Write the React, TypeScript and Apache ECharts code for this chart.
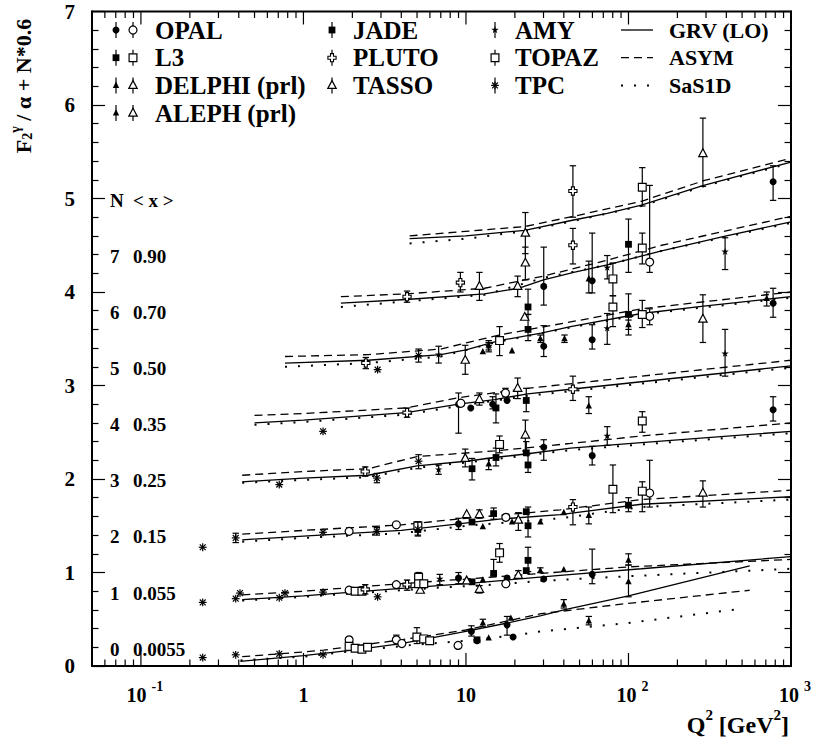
import React, { useEffect, useRef } from "react";
import * as echarts from "echarts";

const FONT = '"Liberation Serif", "Times New Roman", Times, serif';

const Q2_MIN = 0.05;
const Q2_MAX = 1000;
const N_OFFSET = 0.6;

// row labels: N and <x>
const nValues = [0, 1, 2, 3, 4, 5, 6, 7];
const meanX = ["0.0055", "0.055", "0.15", "0.25", "0.35", "0.50", "0.70", "0.90"];

// x axis ticks
const xMajorTicks = [0.1, 1, 10, 100, 1000];
const xTickBase = ["10", "1", "10", "10", "10"];
const xTickExp = ["-1", "", "", "2", "3"];

// ---------- model curves: [Q2, F2/alpha + N*0.6] ----------
const grvN0 = [[0.41, 0.05], [1, 0.11], [2, 0.17], [4, 0.24], [10, 0.37], [18, 0.46], [29, 0.54], [40, 0.6], [100, 0.75], [557, 1.07]];
const grvN1 = [[0.42, 0.71], [1, 0.75], [4, 0.83], [10, 0.88], [38, 0.97], [120, 1.04], [1000, 1.17]];
const grvN2 = [[0.42, 1.35], [1, 1.39], [4, 1.45], [9, 1.52], [16, 1.57], [38, 1.62], [120, 1.73], [1000, 1.81]];
const grvN3 = [[0.42, 1.97], [1, 2.01], [2.5, 2.04], [5, 2.14], [10, 2.19], [15, 2.23], [24, 2.27], [44, 2.33], [120, 2.39], [1000, 2.51]];
const grvN4 = [[0.5, 2.6], [1, 2.63], [4.3, 2.71], [9, 2.8], [15, 2.85], [24, 2.91], [44, 2.96], [120, 3.04], [1000, 3.21]];
const grvN5 = [[0.77, 3.24], [2.5, 3.27], [7, 3.33], [10, 3.38], [16, 3.48], [29, 3.56], [44, 3.63], [120, 3.77], [290, 3.85], [1000, 3.95]];
const grvN6 = [[1.7, 3.88], [4.3, 3.92], [13, 3.98], [21, 4.04], [30, 4.13], [46, 4.21], [74, 4.29], [160, 4.44], [400, 4.6], [1000, 4.75]];
const grvN7 = [[4.5, 4.57], [10, 4.6], [23, 4.66], [46, 4.77], [74, 4.84], [120, 4.93], [290, 5.14], [1000, 5.39]];

const asymN0 = [[0.42, 0.1], [1, 0.15], [1.33, 0.17], [4, 0.28], [10, 0.385], [29, 0.56], [100, 0.67], [557, 0.81]];
const asymN1 = [[0.42, 0.76], [1, 0.8], [4, 0.88], [10, 0.93], [29, 0.99], [100, 1.06], [1000, 1.14]];
const asymN2 = [[0.42, 1.41], [1, 1.45], [4, 1.51], [10, 1.58], [38, 1.67], [120, 1.78], [1000, 1.88]];
const asymN3 = [[0.42, 2.04], [1, 2.08], [2.5, 2.11], [5, 2.24], [15, 2.3], [44, 2.38], [120, 2.46], [1000, 2.6]];
const asymN4 = [[0.5, 2.68], [1, 2.7], [4.3, 2.76], [9, 2.87], [24, 2.97], [120, 3.1], [1000, 3.27]];
const asymN5 = [[0.77, 3.31], [2.5, 3.33], [7, 3.39], [16, 3.54], [44, 3.68], [120, 3.82], [1000, 4.0]];
const asymN6 = [[1.7, 3.95], [4.3, 3.98], [13, 4.04], [30, 4.17], [74, 4.34], [160, 4.5], [1000, 4.81]];
const asymN7 = [[4.5, 4.6], [23, 4.7], [46, 4.81], [120, 4.97], [290, 5.19], [1000, 5.43]];

const sasN0 = [[0.41, 0.06], [1, 0.1], [2, 0.16], [5, 0.23], [10, 0.27], [20, 0.33], [29, 0.37], [100, 0.46], [484, 0.61]];
const sasN1 = [[0.42, 0.7], [1, 0.74], [4, 0.81], [7, 0.84], [15, 0.87], [29, 0.91], [100, 0.96], [1000, 1.04]];
const sasN2 = [[0.42, 1.33], [1, 1.37], [4, 1.42], [10, 1.5], [38, 1.58], [120, 1.7], [1000, 1.78]];
const sasN3 = [[0.42, 1.96], [1, 1.99], [2.5, 2.02], [5, 2.12], [15, 2.21], [44, 2.31], [120, 2.37], [1000, 2.49]];
const sasN4 = [[0.5, 2.58], [1, 2.61], [4.3, 2.69], [9, 2.78], [24, 2.89], [120, 3.02], [1000, 3.19]];
const sasN5 = [[0.77, 3.2], [2.5, 3.24], [7, 3.31], [16, 3.47], [44, 3.62], [120, 3.76], [1000, 3.94]];
const sasN6 = [[1.7, 3.84], [4.3, 3.9], [13, 3.97], [30, 4.15], [74, 4.29], [160, 4.44], [1000, 4.74]];
const sasN7 = [[4.5, 4.52], [10, 4.57], [23, 4.65], [46, 4.76], [120, 4.92], [290, 5.13], [1000, 5.38]];

// ---------- measurements: [Q2, value, errLow, errHigh] ----------
const opal = [
  [30.1, 4.06, 3.86, 4.48], [59.8, 4.12, 3.99, 4.63], [776, 5.18, 4.98, 5.35],
  [30.1, 3.42, 3.31, 3.64], [59.8, 3.49, 3.39, 3.65], [776, 3.88, 3.73, 4.04],
  [9.0, 2.8, 2.49, 2.92], [10.7, 2.76], [14.6, 2.8, 2.75, 2.88], [17.9, 2.84], [776, 2.74, 2.62, 2.88],
  [30.1, 2.34, 2.2, 2.42], [59.8, 2.25, 2.15, 2.35],
  [9.0, 1.52, 1.46, 1.58],
  [9.0, 0.94, 0.88, 1.0], [17.9, 0.94], [30.1, 0.93], [59.8, 0.98, 0.88, 1.25],
  [10.8, 0.37, 0.32, 0.43], [11.7, 0.27], [17.9, 0.44, 0.33, 0.53], [19.5, 0.31],
];
const opalOpen = [
  [135, 4.32, 4.21, 5.14], [135, 3.74, 3.65, 3.82], [9.3, 2.81], [17.5, 2.92, 2.88, 2.97],
  [135, 1.85, 1.7, 2.2], [1.91, 1.44], [3.73, 1.51], [17.6, 1.59],
  [1.91, 0.81], [3.73, 0.87], [17.6, 0.88],
  [1.91, 0.28], [3.73, 0.28, 0.25, 0.33], [4.03, 0.24], [8.94, 0.22],
];
const l3 = [
  [15.3, 2.76, 2.6, 2.91], [10.9, 2.11, 1.99, 2.22], [15.3, 2.23, 2.14, 2.33],
  [5.06, 1.46], [10.9, 1.54], [14.8, 1.63, 1.57, 1.69],
  [10.9, 0.9], [14.8, 0.99, 0.97, 1.14], [11.7, 0.28],
];
const l3Open = [
  [121.6, 5.12, 4.92, 5.33], [121.6, 4.47, 4.3, 4.63], [121.6, 3.76, 3.62, 3.91], [121.6, 2.62, 2.5, 2.72],
  [121.6, 1.87, 1.65, 1.97], [2.08, 0.8], [2.29, 0.8],
  [1.91, 0.21], [2.08, 0.19], [2.29, 0.18], [2.48, 0.2],
];
const delphi = [
  [57, 4.14, 3.99, 4.33], [12.7, 3.36], [13.8, 3.43, 3.36, 3.48], [19.2, 3.37], [28.7, 3.5, 3.46, 3.54],
  [57, 2.78, 2.7, 2.88], [13.8, 2.16, 2.1, 2.22], [12.7, 1.49], [19.2, 1.54],
  [12.7, 0.92], [28.7, 1.02, 1.0, 1.05], [12.7, 0.46, 0.42, 0.5], [13.8, 0.3], [18.9, 0.51],
];
const aleph = [
  [40.4, 3.5, 3.46, 3.54], [100, 3.65, 3.6, 3.7], [709, 3.93, 3.85, 4.0], [40, 1.64],
  [57, 1.61, 1.52, 1.7], [28.7, 1.54], [40, 1.03], [100, 1.13, 1.08, 1.2], [100, 0.9, 0.74, 1.08],
  [40, 0.66, 0.62, 0.71], [57, 0.48, 0.44, 0.53],
];
const jade = [
  [24.1, 3.84, 3.76, 4.03], [24.1, 3.6, 3.48, 3.76], [100, 4.51, 4.21, 4.78], [100, 3.76, 3.54, 3.98],
  [23.5, 2.84, 2.72, 2.97], [23.5, 2.28, 2.28, 2.4], [24.1, 2.15, 2.07, 2.27], [100, 1.72, 1.65, 1.8],
  [23.5, 1.65], [24.1, 1.5, 1.38, 1.7], [23.5, 1.02], [24.1, 1.13, 1.01, 1.27],
];
const pluto = [
  [45.5, 5.08, 4.8, 5.35], [45.5, 4.5, 4.3, 4.68], [9.24, 4.1, 4.0, 4.21], [4.34, 3.95, 3.89, 4.01],
  [2.42, 3.24, 3.18, 3.3], [45.5, 2.96, 2.84, 3.1], [4.34, 2.71, 2.66, 2.76], [2.4, 2.08, 2.03, 2.13],
  [45.5, 1.7, 1.51, 1.78], [2.4, 0.82, 0.77, 0.87], [4.34, 0.87, 0.81, 0.92],
];
const tasso = [
  [23.2, 4.63, 4.41, 4.85], [23.2, 4.31, 4.13, 4.48], [12.1, 4.06, 3.91, 4.21], [20.8, 4.06, 3.95, 4.17],
  [23, 3.73], [287, 5.48, 5.13, 5.86], [9.9, 3.27, 3.12, 3.43], [287, 3.71, 3.46, 3.97],
  [12.1, 2.85, 2.79, 2.92], [20.8, 2.97, 2.86, 3.08], [9.9, 2.22, 2.13, 2.32], [23.2, 2.47, 2.3, 2.63],
  [287, 1.85, 1.7, 1.98], [10.1, 1.62], [12.1, 1.62, 1.58, 1.67], [21, 1.56, 1.45, 1.64],
  [5.23, 0.81], [10.1, 0.91], [12.1, 0.82, 0.78, 0.86], [21, 0.97, 0.97, 1.02],
];
const amy = [
  [74, 4.26, 4.14, 4.39], [393, 4.43, 4.24, 4.58], [6.79, 3.33, 3.24, 3.42], [13.8, 3.42, 3.38, 3.46],
  [74, 3.61, 3.44, 3.77], [393, 3.34, 3.1, 3.6], [6.79, 2.1, 2.05, 2.15], [74, 2.46, 2.36, 2.56],
  [6.9, 0.93, 0.87, 0.98],
];
const topaz = [
  [80.2, 4.14, 3.96, 4.31], [80.2, 3.84, 3.63, 3.96], [16.1, 3.48, 3.32, 3.63], [16.1, 2.37, 2.28, 2.46],
  [80.2, 1.89, 1.64, 2.15], [5.06, 1.5, 1.4, 1.54], [16.1, 1.21, 1.11, 1.31], [5.11, 0.95, 0.9, 1.0],
  [5.11, 0.88], [5.5, 0.88], [4.99, 0.31, 0.24, 0.41], [5.49, 0.29], [5.98, 0.27],
];
const tpc = [
  [0.24, 1.27], [0.24, 0.68], [0.24, 0.09], [0.383, 1.37, 1.32, 1.42], [0.383, 0.72], [0.383, 0.12],
  [0.407, 0.78], [0.71, 1.94], [0.71, 0.73], [0.71, 0.13], [0.77, 0.78],
  [1.32, 2.51], [1.32, 1.43], [1.32, 0.79], [1.32, 0.12],
  [2.86, 3.17], [2.83, 2.01, 1.96, 2.06], [2.83, 1.44, 1.4, 1.48], [2.86, 0.74],
  [5.11, 3.32, 3.25, 3.39], [5.11, 2.19, 2.11, 2.26], [5.06, 1.46, 1.39, 1.54],
];

const grvCurves = [grvN0, grvN1, grvN2, grvN3, grvN4, grvN5, grvN6, grvN7];
const asymCurves = [asymN0, asymN1, asymN2, asymN3, asymN4, asymN5, asymN6, asymN7];
const sasCurves = [sasN0, sasN1, sasN2, sasN3, sasN4, sasN5, sasN6, sasN7];

const BLACK = "#000";
const WHITE = "#fff";
const DASH = [8, 5];
const DOT = [2, 11];

function markerShapes(kind: string, x: number, y: number): any[] {
  switch (kind) {
    case "fc":
      return [{ type: "circle", shape: { cx: x, cy: y, r: 3.5 }, style: { fill: BLACK } }];
    case "oc":
      return [{ type: "circle", shape: { cx: x, cy: y, r: 4 }, style: { fill: WHITE, stroke: BLACK, lineWidth: 1.2 } }];
    case "fs":
      return [{ type: "rect", shape: { x: x - 3.4, y: y - 3.4, width: 6.8, height: 6.8 }, style: { fill: BLACK } }];
    case "os":
      return [{ type: "rect", shape: { x: x - 3.9, y: y - 3.9, width: 7.8, height: 7.8 }, style: { fill: WHITE, stroke: BLACK, lineWidth: 1.2 } }];
    case "ft":
      return [{ type: "polygon", shape: { points: [[x, y - 3.8], [x - 3.2, y + 2.5], [x + 3.2, y + 2.5]] }, style: { fill: BLACK } }];
    case "ot":
      return [{ type: "polygon", shape: { points: [[x, y - 4.8], [x - 4.2, y + 3], [x + 4.2, y + 3]] }, style: { fill: WHITE, stroke: BLACK, lineWidth: 1.2 } }];
    case "cr": {
      const a = 1.5, b = 4.1;
      return [{
        type: "polygon",
        shape: { points: [[x - a, y - b], [x + a, y - b], [x + a, y - a], [x + b, y - a], [x + b, y + a], [x + a, y + a], [x + a, y + b], [x - a, y + b], [x - a, y + a], [x - b, y + a], [x - b, y - a], [x - a, y - a]] },
        style: { fill: WHITE, stroke: BLACK, lineWidth: 1.1 },
      }];
    }
    case "st": {
      const pts: number[][] = [];
      for (let i = 0; i < 10; i++) {
        const r = i % 2 === 0 ? 3.9 : 1.5;
        const ang = -Math.PI / 2 + (i * Math.PI) / 5;
        pts.push([x + r * Math.cos(ang), y + r * Math.sin(ang)]);
      }
      return [{ type: "polygon", shape: { points: pts }, style: { fill: BLACK } }];
    }
    case "as": {
      const s = 3.9, d = 2.9;
      const st = { stroke: BLACK, lineWidth: 1.2 };
      return [
        { type: "line", shape: { x1: x, y1: y - s, x2: x, y2: y + s }, style: st },
        { type: "line", shape: { x1: x - s, y1: y, x2: x + s, y2: y }, style: st },
        { type: "line", shape: { x1: x - d, y1: y - d, x2: x + d, y2: y + d }, style: st },
        { type: "line", shape: { x1: x - d, y1: y + d, x2: x + d, y2: y - d }, style: st },
      ];
    }
  }
  return [];
}

function seg(x1: number, y1: number, x2: number, y2: number, w = 1.2): any {
  return { type: "line", shape: { x1, y1, x2, y2 }, style: { stroke: BLACK, lineWidth: w } };
}

function pointRenderer(kind: string) {
  return (params: any, api: any) => {
    const q = api.value(0);
    const y = api.value(1);
    const lo = api.value(2);
    const hi = api.value(3);
    const p = api.coord([q, y]);
    const children: any[] = [];
    if (Number.isFinite(lo) && Number.isFinite(hi) && hi > lo) {
      const a = api.coord([q, lo]);
      const b = api.coord([q, hi]);
      children.push(seg(p[0], a[1], p[0], b[1]));
      children.push(seg(p[0] - 3.2, a[1], p[0] + 3.2, a[1]));
      children.push(seg(p[0] - 3.2, b[1], p[0] + 3.2, b[1]));
    }
    children.push(...markerShapes(kind, p[0], p[1]));
    return { type: "group", children };
  };
}

const experiments = [
  { name: "OPAL", data: opal, kind: "fc" },
  { name: "OPAL (open)", data: opalOpen, kind: "oc" },
  { name: "L3", data: l3, kind: "fs" },
  { name: "L3 (open)", data: l3Open, kind: "os" },
  { name: "DELPHI (prl)", data: delphi, kind: "ft" },
  { name: "ALEPH (prl)", data: aleph, kind: "ft" },
  { name: "JADE", data: jade, kind: "fs" },
  { name: "PLUTO", data: pluto, kind: "cr" },
  { name: "TASSO", data: tasso, kind: "ot" },
  { name: "AMY", data: amy, kind: "st" },
  { name: "TOPAZ", data: topaz, kind: "os" },
  { name: "TPC", data: tpc, kind: "as" },
];

const models = [
  { name: "GRV (LO)", curves: grvCurves, lineType: "solid" as any, width: 1.3 },
  { name: "ASYM", curves: asymCurves, lineType: DASH as any, width: 1.3 },
  { name: "SaS1D", curves: sasCurves, lineType: DOT as any, width: 2 },
];

function buildLegend(): any[] {
  const els: any[] = [];
  const rowY = (i: number) => 30 + i * 27.7;
  const textEl = (x: number, y: number, t: string, size = 25) => ({
    type: "text",
    x,
    y,
    style: { text: t, fill: BLACK, fontSize: size, fontWeight: "bold", fontFamily: FONT, align: "left", verticalAlign: "middle" },
  });
  const markerWithBar = (kind: string, x: number, y: number) => [seg(x, y - 8, x, y + 8), ...markerShapes(kind, x, y)];
  const col1 = [
    { label: "OPAL", kinds: ["fc", "oc"] },
    { label: "L3", kinds: ["fs", "os"] },
    { label: "DELPHI (prl)", kinds: ["ft", "ot"] },
    { label: "ALEPH (prl)", kinds: ["ft", "ot"] },
  ];
  col1.forEach((it, i) => {
    const y = rowY(i);
    els.push(...markerWithBar(it.kinds[0], 116, y));
    els.push(...markerWithBar(it.kinds[1], 133, y));
    els.push(textEl(155, y, it.label));
  });
  const col2 = [{ label: "JADE", kind: "fs" }, { label: "PLUTO", kind: "cr" }, { label: "TASSO", kind: "ot" }];
  col2.forEach((it, i) => {
    const y = rowY(i);
    els.push(...markerWithBar(it.kind, 332, y));
    els.push(textEl(353, y, it.label));
  });
  const col3 = [{ label: "AMY", kind: "st" }, { label: "TOPAZ", kind: "os" }, { label: "TPC", kind: "as" }];
  col3.forEach((it, i) => {
    const y = rowY(i);
    els.push(...markerWithBar(it.kind, 495, y));
    els.push(textEl(515, y, it.label));
  });
  models.forEach((m, i) => {
    const y = rowY(i);
    const style: any = { stroke: BLACK, lineWidth: m.width };
    if (Array.isArray(m.lineType)) style.lineDash = m.lineType;
    els.push({ type: "line", shape: { x1: 621, y1: y, x2: 653, y2: y }, style });
    els.push(textEl(669, y, m.name, 22));
  });
  return els;
}

export default function App() {
  const ref = useRef<HTMLDivElement>(null);

  useEffect(() => {
    if (!ref.current) return;
    const chart = echarts.init(ref.current, undefined, { renderer: "svg" });

    const curveSeries: any[] = [];
    models.forEach((m) => {
      m.curves.forEach((c, n) => {
        curveSeries.push({
          type: "line",
          name: `${m.name} N=${n}`,
          data: c,
          showSymbol: false,
          symbol: "none",
          silent: true,
          z: 2,
          lineStyle: { color: BLACK, width: m.width, type: m.lineType, cap: "butt" },
        });
      });
    });

    const pointSeries = experiments.map((e) => ({
      type: "custom",
      name: e.name,
      data: e.data,
      dimensions: ["q", "y", "lo", "hi"],
      encode: { x: 0, y: 1 },
      renderItem: pointRenderer(e.kind),
      silent: true,
      z: 5,
    }));

    const minorTicks: number[] = [];
    [0.01, 0.1, 1, 10, 100].forEach((d) => {
      for (let m = 2; m <= 9; m++) {
        const v = m * d;
        if (v > Q2_MIN * 1.01 && v < Q2_MAX) minorTicks.push(v);
      }
    });
    const xTickData = [...minorTicks.map((v) => [v, 0]), ...xMajorTicks.map((v) => [v, 1])];

    const xTickSeries = {
      type: "custom",
      name: "x ticks",
      data: xTickData,
      encode: { x: 0, y: 1 },
      silent: true,
      z: 4,
      renderItem: (params: any, api: any) => {
        const q = api.value(0);
        const major = api.value(1) === 1;
        const cs = params.coordSys;
        const x = api.coord([q, 1])[0];
        const len = major ? 13 : 6.5;
        const top = cs.y;
        const bot = cs.y + cs.height;
        return {
          type: "group",
          children: [seg(x, bot, x, bot - len, 1.2), seg(x, top, x, top + len, 1.2)],
        };
      },
    };

    const xLabelSeries = {
      type: "custom",
      name: "x labels",
      data: xMajorTicks.map((v, i) => [v, i]),
      encode: { x: 0, y: 1 },
      silent: true,
      z: 4,
      renderItem: (params: any, api: any) => {
        const q = api.value(0);
        const i = api.value(1);
        const cs = params.coordSys;
        const x = api.coord([q, 1])[0];
        const exp = xTickExp[i];
        const text = exp ? `{b|${xTickBase[i]}}{s|${exp}}` : `{b|${xTickBase[i]}}`;
        return {
          type: "text",
          x: x + (exp ? 4 : 0),
          y: cs.y + cs.height + 13,
          style: {
            text,
            fill: BLACK,
            align: "center",
            verticalAlign: "top",
            fontFamily: FONT,
            fontWeight: "bold",
            rich: {
              b: { fontSize: 20, fontWeight: "bold", fontFamily: FONT, lineHeight: 26, verticalAlign: "bottom", fill: BLACK },
              s: { fontSize: 14, fontWeight: "bold", fontFamily: FONT, lineHeight: 14, verticalAlign: "top", padding: [0, 0, 0, 5], fill: BLACK },
            },
          },
        };
      },
    };

    const rowData = [...nValues.map((n) => [Q2_MIN, n * N_OFFSET + 0.18, n]), [Q2_MIN, 8 * N_OFFSET + 0.18, -1]];
    const rowLabelSeries = {
      type: "custom",
      name: "N labels",
      data: rowData,
      encode: { x: 0, y: 1 },
      silent: true,
      z: 4,
      renderItem: (params: any, api: any) => {
        const y = api.value(1);
        const n = api.value(2);
        const p = api.coord([Q2_MIN, y]);
        const st = { fill: BLACK, fontSize: 19, fontWeight: "bold", fontFamily: FONT, align: "left", verticalAlign: "middle" };
        return {
          type: "group",
          children: [
            { type: "text", x: p[0] + 18, y: p[1], style: { ...st, text: n < 0 ? "N" : String(n) } },
            { type: "text", x: p[0] + 41, y: p[1], style: { ...st, text: n < 0 ? "< x >" : meanX[n] } },
          ],
        };
      },
    };

    const option: any = {
      animation: false,
      backgroundColor: WHITE,
      grid: { left: 92, top: 11.5, width: 699, height: 654.5, show: true, borderColor: BLACK, borderWidth: 2, backgroundColor: "transparent" },
      xAxis: {
        type: "log",
        logBase: 10,
        min: Q2_MIN,
        max: Q2_MAX,
        axisLine: { show: true, lineStyle: { color: BLACK, width: 2 } },
        axisTick: { show: false },
        axisLabel: { show: false },
        splitLine: { show: false },
        minorTick: { show: false },
      },
      yAxis: [
        {
          type: "value",
          min: 0,
          max: 7,
          interval: 1,
          axisLine: { show: true, lineStyle: { color: BLACK, width: 2 } },
          axisTick: { show: true, inside: true, length: 13, lineStyle: { color: BLACK, width: 1.2 } },
          minorTick: { show: true, splitNumber: 5, length: 6.5, lineStyle: { color: BLACK, width: 1.2 } },
          axisLabel: { color: BLACK, fontSize: 21, fontWeight: "bold", fontFamily: FONT, margin: 17 },
          splitLine: { show: false },
        },
        {
          type: "value",
          position: "right",
          min: 0,
          max: 7,
          interval: 1,
          axisLine: { show: true, lineStyle: { color: BLACK, width: 2 } },
          axisTick: { show: true, inside: true, length: 13, lineStyle: { color: BLACK, width: 1.2 } },
          minorTick: { show: true, splitNumber: 5, length: 6.5, lineStyle: { color: BLACK, width: 1.2 } },
          axisLabel: { show: false },
          splitLine: { show: false },
        },
      ],
      graphic: [
        {
          type: "text",
          x: 21,
          y: 86,
          rotation: Math.PI / 2,
          style: {
            text: "{b|F}{sub|2}{sup|γ}{b| / α + N*0.6}",
            fill: BLACK,
            align: "center",
            verticalAlign: "middle",
            fontFamily: FONT,
            fontWeight: "bold",
            rich: {
              b: { fontSize: 22, fontWeight: "bold", fontFamily: FONT, lineHeight: 26, verticalAlign: "bottom", fill: BLACK },
              sub: { fontSize: 14, fontWeight: "bold", fontFamily: FONT, lineHeight: 14, verticalAlign: "bottom", fill: BLACK },
              sup: { fontSize: 14, fontWeight: "bold", fontFamily: FONT, lineHeight: 14, verticalAlign: "top", fill: BLACK },
            },
          },
        },
        {
          type: "text",
          x: 789,
          y: 707,
          style: {
            text: "{b|Q}{s|2}{b| [GeV}{s|2}{b|]}",
            fill: BLACK,
            align: "right",
            verticalAlign: "top",
            fontFamily: FONT,
            fontWeight: "bold",
            rich: {
              b: { fontSize: 24, fontWeight: "bold", fontFamily: FONT, lineHeight: 30, verticalAlign: "bottom", fill: BLACK },
              s: { fontSize: 15, fontWeight: "bold", fontFamily: FONT, lineHeight: 15, verticalAlign: "top", fill: BLACK },
            },
          },
        },
        ...buildLegend(),
      ],
      series: [...curveSeries, ...pointSeries, xTickSeries, xLabelSeries, rowLabelSeries],
    };

    chart.setOption(option);
    return () => chart.dispose();
  }, []);

  return (
    <div
      ref={ref}
      style={{ position: "fixed", left: 0, top: 0, width: 815, height: 747, background: "#fff" }}
    />
  );
}
